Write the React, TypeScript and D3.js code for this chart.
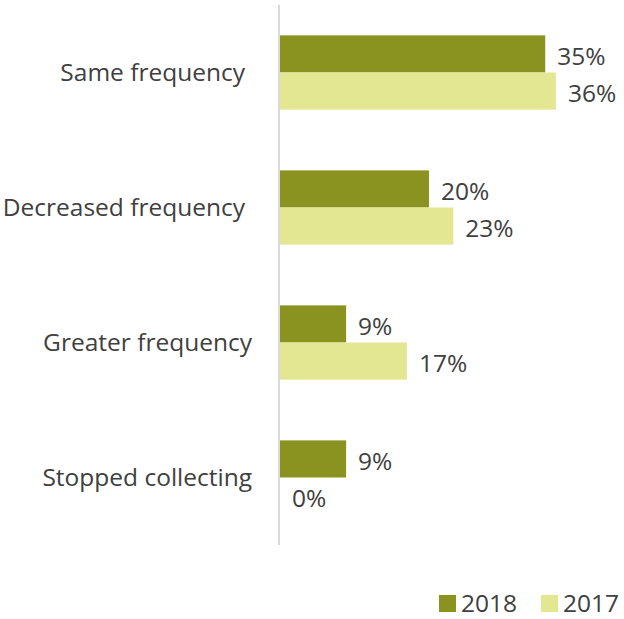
import React from "react";
import * as d3 from "d3";

const categories = ["Same frequency", "Decreased frequency", "Greater frequency", "Stopped collecting"];
const series2018 = [34.9, 19.6, 8.7, 8.7];
const series2017 = [36.3, 22.8, 16.7, 0];
const labels2018 = ["35%", "20%", "9%", "9%"];
const labels2017 = ["36%", "23%", "17%", "0%"];
const seriesNames = ["2018", "2017"];
const colors = ["#8A931F", "#E3E791"];

const W = 624;
const H = 619;
const FONT = "'Open Sans', sans-serif";
const FS = 24.5;

export default function App() {
  const x = d3.scaleLinear().domain([0, 10]).range([280, 356]);
  const y = d3.scaleBand<string>().domain(categories).range([5, 545]).paddingInner(0.45).paddingOuter(0.225);
  const sub = d3.scaleBand<string>().domain(seriesNames).range([0, y.bandwidth()]);
  const all = [series2018, series2017];
  const labs = [labels2018, labels2017];
  return (
    <svg width={W} height={H} style={{ position: "absolute", left: 0, top: 0, fontFamily: FONT }}>
      <line x1={279} x2={279} y1={5} y2={545} stroke="#D9D9D9" strokeWidth={2} />
      {categories.map((c, i) => (
        <g key={c}>
          <text
            x={i < 2 ? 245 : 252}
            y={(y(c) ?? 0) + y.bandwidth() / 2 + 8}
            textAnchor="end"
            fontSize={FS}
            fill="#404040"
          >
            {c}
          </text>
          {all.map((s, j) => {
            const by = (y(c) ?? 0) + (sub(seriesNames[j]) ?? 0);
            return (
              <g key={j}>
                {s[i] > 0 && (
                  <rect x={x(0)} y={by} width={x(s[i]) - x(0)} height={sub.bandwidth()} fill={colors[j]} />
                )}
                <text
                  x={x(s[i]) + 12}
                  y={by + sub.bandwidth() / 2 + 11}
                  fontSize={FS}
                  fill="#404040"
                >
                  {labs[j][i]}
                </text>
              </g>
            );
          })}
        </g>
      ))}
      {seriesNames.map((n, j) => (
        <g key={n} transform={`translate(${439 + j * 102},0)`}>
          <rect x={0} y={595} width={17} height={17} fill={colors[j]} />
          <text x={22} y={612} fontSize={FS} fill="#404040">
            {n}
          </text>
        </g>
      ))}
    </svg>
  );
}
